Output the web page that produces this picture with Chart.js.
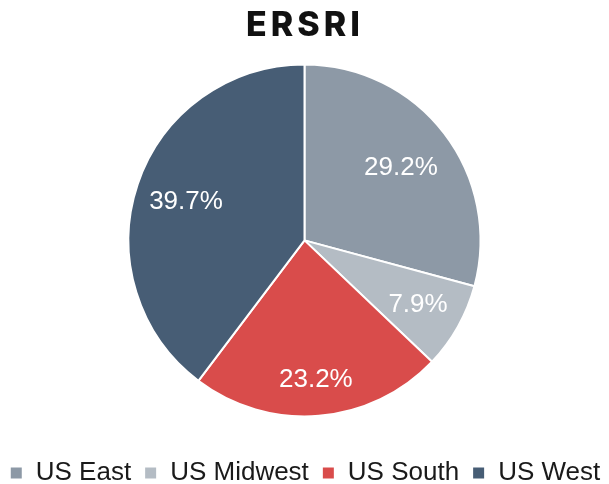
<!DOCTYPE html>
<html>
<head>
<meta charset="utf-8">
<script src="https://cdn.jsdelivr.net/npm/chart.js@4.4.0/dist/chart.umd.min.js"></script>
<style>
  html, body { margin: 0; padding: 0; background: #fff; }
  #wrap { width: 609px; height: 484px; }
</style>
</head>
<body>
<div id="wrap"><canvas id="pie"></canvas></div>
<script>
const regions = ['US East', 'US Midwest', 'US South', 'US West'];
const shares = [29.2, 7.9, 23.2, 39.7];
const colors = ['#8d99a6', '#b4bcc4', '#d94c4b', '#475d75'];
const chartTitle = 'ERSRI';

// how far out (fraction of radius) each percentage sits, like excel's best fit
const labelDepth = [0.69, 0.74, 0.79, 0.71];

const sliceLabels = {
  id: 'sliceLabels',
  afterDatasetsDraw(chart) {
    const ctx = chart.ctx;
    const meta = chart.getDatasetMeta(0);
    ctx.save();
    ctx.fillStyle = '#ffffff';
    ctx.font = '26px "Liberation Sans", Arial, sans-serif';
    ctx.textAlign = 'center';
    ctx.textBaseline = 'middle';
    meta.data.forEach((arc, i) => {
      const p = arc.getProps(['x', 'y', 'startAngle', 'endAngle', 'outerRadius'], true);
      const mid = (p.startAngle + p.endAngle) / 2;
      const r = p.outerRadius * labelDepth[i];
      ctx.fillText(shares[i].toFixed(1) + '%', p.x + Math.cos(mid) * r, p.y + Math.sin(mid) * r + 1);
    });
    ctx.restore();
  }
};

// spread the title letters out a bit
const spacedTitle = {
  id: 'spacedTitle',
  afterLayout(chart) {
    const t = chart.titleBlock;
    if (!t || t._spaced) return;
    const draw = t.draw.bind(t);
    t.draw = function () {
      chart.ctx.save();
      chart.ctx.letterSpacing = '4px';
      draw();
      chart.ctx.restore();
    };
    t._spaced = true;
  }
};

new Chart(document.getElementById('pie'), {
  type: 'pie',
  data: {
    labels: regions,
    datasets: [{
      data: shares,
      backgroundColor: colors,
      borderColor: '#ffffff',
      borderWidth: 2,
      hoverOffset: 0,
      radius: 176,
    }],
  },
  options: {
    responsive: true,
    maintainAspectRatio: false,
    animation: false,
    layout: { padding: { left: -4, right: -5, top: 0, bottom: -12 } },
    plugins: {
      tooltip: { enabled: false },
      title: {
        display: true,
        text: chartTitle,
        color: '#111111',
        font: { family: 'Inter, Lato, sans-serif', size: 34, weight: '800' },
        padding: { top: 5, bottom: -12 },
      },
      legend: {
        position: 'bottom',
        labels: {
          color: '#1a1a1a',
          font: { family: '"Liberation Sans", Arial, sans-serif', size: 26 },
          boxWidth: 13,
          boxHeight: 13,
          padding: 13,
        },
      },
    },
  },
  plugins: [sliceLabels, spacedTitle],
});
</script>
</body>
</html>
